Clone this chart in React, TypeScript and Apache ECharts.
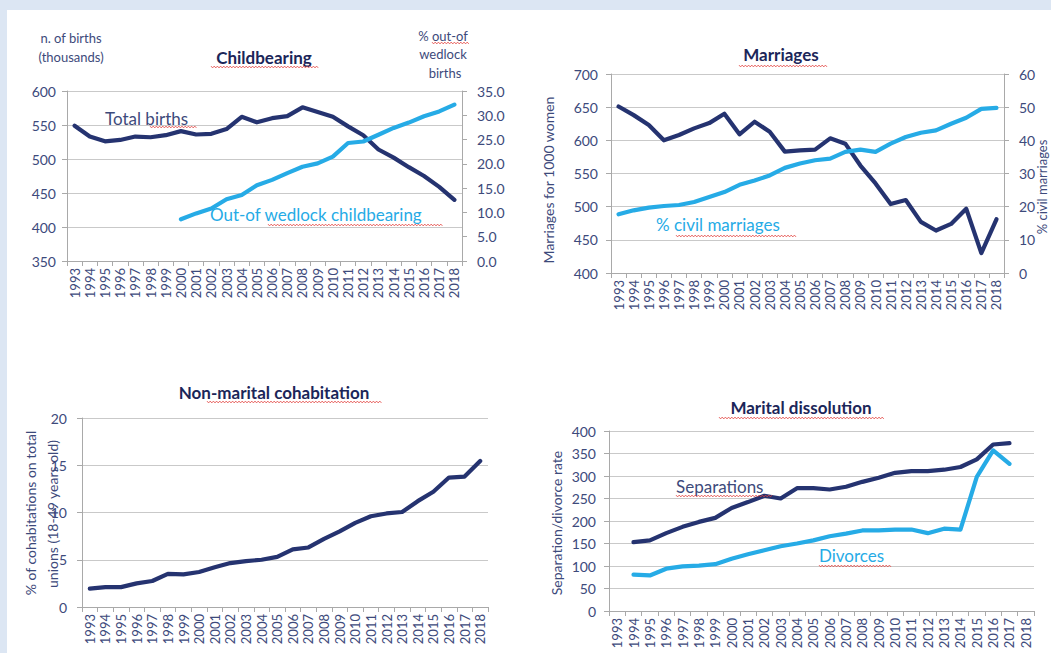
import React, { useEffect, useRef } from "react";
import * as echarts from "echarts";

// ---------- data ----------
const years = [
  "1993", "1994", "1995", "1996", "1997", "1998", "1999", "2000", "2001", "2002", "2003", "2004", "2005",
  "2006", "2007", "2008", "2009", "2010", "2011", "2012", "2013", "2014", "2015", "2016", "2017", "2018",
];

// Childbearing (thousands of births) and % out-of-wedlock births
const totalBirths = [549, 533, 526, 528, 533, 532, 535, 541, 536, 537, 544, 562, 554, 560, 563, 576, 569, 562, 548, 535, 514, 502, 488, 475, 459, 440];
const outOfWedlock = [null, null, null, null, null, null, null, 8.6, 9.8, 10.8, 12.7, 13.6, 15.6, 16.7, 18.1, 19.4, 20.1, 21.5, 24.3, 24.6, 26.0, 27.4, 28.5, 29.8, 30.8, 32.2];

// Marriages (for 1000 women) and % civil marriages
const marriages = [651, 638, 623, 600, 608, 618, 626, 640, 609, 628, 613, 583, 585, 586, 603, 595, 562, 535, 504, 510, 477, 464, 474, 497, 430, 481];
const civilMarriages = [17.7, 18.9, 19.7, 20.2, 20.5, 21.4, 22.9, 24.4, 26.6, 27.9, 29.4, 31.7, 33.0, 34.0, 34.5, 36.5, 37.2, 36.5, 39.0, 41.0, 42.3, 43.0, 45.0, 46.8, 49.5, 49.8];

// Non-marital cohabitation (% on total unions)
const cohabitation = [1.94, 2.1, 2.1, 2.5, 2.75, 3.5, 3.45, 3.7, 4.2, 4.65, 4.85, 5.0, 5.3, 6.1, 6.3, 7.2, 8.0, 8.9, 9.6, 9.9, 10.05, 11.2, 12.2, 13.7, 13.8, 15.45];

// Marital dissolution rates
const separations = [null, 153, 157, 173, 187, 198, 207, 229, 242, 256, 250, 273, 273, 270, 276, 287, 296, 307, 311, 311, 314, 320, 337, 370, 373, null];
const divorces = [null, 81, 79, 94, 99, 101, 104, 116, 126, 135, 144, 150, 157, 166, 172, 179, 179, 181, 181, 173, 183, 181, 298, 357, 327, null];

// tick settings
const birthsTicks = { min: 350, max: 600, interval: 50 };
const wedlockTicks = { min: 0, max: 35, interval: 5 };
const marriageTicks = { min: 400, max: 700, interval: 50 };
const civilTicks = { min: 0, max: 60, interval: 10 };
const cohabTicks = { min: 0, max: 20, interval: 5 };
const dissolutionTicks = { min: 0, max: 400, interval: 50 };

// ---------- styles ----------
const NAVY = "#253370";
const LIGHT = "#26abe6";
const TXT = "#3d4a7b";
const TITLE = "#1b2659";
const GRIDC = "#c9c9c9";
const AXISC = "#a9a9a9";
const FONT = "Lato, 'Open Sans', sans-serif";
const BG = "#dce6f3";

function xAx(gridIndex: number) {
  return {
    type: "category",
    gridIndex,
    data: years,
    boundaryGap: true,
    axisLine: { show: true, lineStyle: { color: AXISC, width: 1 } },
    axisTick: { show: true, length: 5, lineStyle: { color: AXISC } },
    axisLabel: { rotate: 90, interval: 0, fontSize: 13, color: TXT, fontFamily: FONT, margin: 7 },
    splitLine: { show: false },
  };
}

function yAx(gridIndex: number, t: any, position: string, margin: number, split: boolean, showLine: boolean, fmt?: any) {
  return {
    type: "value",
    gridIndex,
    position,
    min: t.min,
    max: t.max,
    interval: t.interval,
    axisLine: { show: showLine, lineStyle: { color: AXISC, width: 1 } },
    axisTick: { show: true, length: 5, lineStyle: { color: AXISC } },
    splitLine: { show: split, lineStyle: { color: GRIDC, width: 1 } },
    axisLabel: { fontSize: 14, color: TXT, fontFamily: FONT, margin, formatter: fmt },
  };
}

function line(data: any[], xi: number, yi: number, color: string) {
  return {
    type: "line",
    xAxisIndex: xi,
    yAxisIndex: yi,
    data,
    symbol: "none",
    silent: true,
    connectNulls: false,
    lineStyle: { color, width: 4.2, cap: "round", join: "round" },
  };
}

function txt(text: string, x: number, y: number, size: number, color: string, align = "left", bold = false, rotation = 0) {
  return {
    type: "text",
    x,
    y,
    rotation,
    z: 10,
    style: {
      text,
      fill: color,
      fontSize: size,
      fontFamily: FONT,
      fontWeight: bold ? "bold" : "normal",
      align,
      textAlign: align,
      verticalAlign: "middle",
      textVerticalAlign: "middle",
    },
  };
}

function wavy(x0: number, x1: number, y: number) {
  const pts: number[][] = [];
  let up = true;
  for (let x = x0; x <= x1; x += 1.6) {
    pts.push([x, y + (up ? -0.9 : 0.9)]);
    up = !up;
  }
  return { type: "polyline", z: 11, shape: { points: pts }, style: { stroke: "#e2403c", lineWidth: 0.8, fill: null } };
}

export default function App() {
  const ref = useRef<HTMLDivElement>(null);
  useEffect(() => {
    document.body.style.margin = "0";
    const chart = echarts.init(ref.current!, null, { renderer: "svg" });
    const option: any = {
      animation: false,
      backgroundColor: BG,
      grid: [
        { left: 67, top: 91, width: 395, height: 170 },
        { left: 611, top: 74, width: 393, height: 199 },
        { left: 82, top: 418, width: 406, height: 189 },
        { left: 609, top: 431, width: 425, height: 180 },
      ],
      xAxis: [xAx(0), xAx(1), xAx(2), xAx(3)],
      yAxis: [
        yAx(0, birthsTicks, "left", 11, true, true),
        yAx(0, wedlockTicks, "right", 15, false, true, (v: number) => v.toFixed(1)),
        yAx(1, marriageTicks, "left", 13, true, true),
        yAx(1, civilTicks, "right", 15, false, true),
        yAx(2, cohabTicks, "left", 15, true, true),
        yAx(3, dissolutionTicks, "left", 13, true, true),
      ],
      series: [
        line(totalBirths, 0, 0, NAVY),
        line(outOfWedlock, 0, 1, LIGHT),
        line(marriages, 1, 2, NAVY),
        line(civilMarriages, 1, 3, LIGHT),
        line(cohabitation, 2, 4, NAVY),
        line(separations, 3, 5, NAVY),
        line(divorces, 3, 5, LIGHT),
      ],
      graphic: [
        { type: "rect", z: -10, shape: { x: 7, y: 10, width: 1044, height: 643 }, style: { fill: "#ffffff" } },
        // Childbearing
        txt("n. of births", 71, 38, 13, TXT, "center"),
        txt("(thousands)", 71, 57, 13, TXT, "center"),
        txt("Childbearing", 264, 57, 17, TITLE, "center", true),
        txt("% out-of", 443, 36, 13, TXT, "center"),
        txt("wedlock", 443, 54, 13, TXT, "center"),
        txt("births", 445, 73, 13, TXT, "center"),
        txt("Total births", 105, 118, 17, TXT),
        txt("Out-of wedlock childbearing", 210, 214, 17, LIGHT),
        // Marriages
        txt("Marriages", 781, 54, 17, TITLE, "center", true),
        txt("Marriages for 1000 women", 548, 180, 14, TXT, "center", false, Math.PI / 2),
        txt("% civil marriages", 1042, 187, 13, TXT, "center", false, Math.PI / 2),
        txt("% civil marriages", 656, 224, 17, LIGHT),
        // Cohabitation
        txt("Non-marital cohabitation", 274, 392, 17, TITLE, "center", true),
        txt("% of cohabitations on total", 30, 513, 14, TXT, "center", false, Math.PI / 2),
        txt("unions (18-49 years old)", 52, 514, 14, TXT, "center", false, Math.PI / 2),
        // Dissolution
        txt("Marital dissolution", 801, 407, 17, TITLE, "center", true),
        txt("Separation/divorce rate", 556, 523, 14, TXT, "center", false, Math.PI / 2),
        txt("Separations", 676, 486, 17, TXT),
        txt("Divorces", 819, 555, 17, LIGHT),
        // spell-check underlines
        wavy(211, 319, 67),
        wavy(150, 197, 127),
        wavy(268, 444, 225),
        wavy(432, 469, 43),
        wavy(739, 828, 66),
        wavy(676, 797, 236),
        wavy(207, 383, 402),
        wavy(719, 884, 418),
        wavy(676, 773, 496),
        wavy(819, 892, 566),
      ],
    };
    chart.setOption(option);
    return () => chart.dispose();
  }, []);
  return <div ref={ref} style={{ width: 1051, height: 653 }} />;
}
